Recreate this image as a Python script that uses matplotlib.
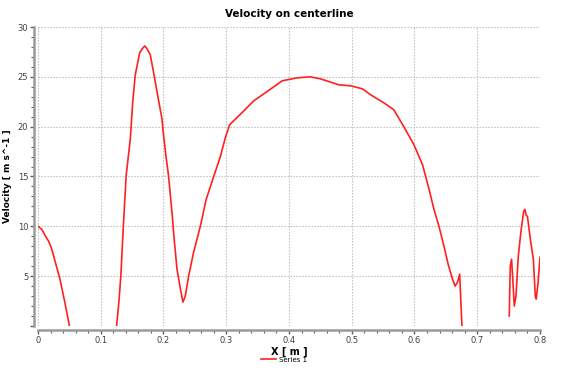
import numpy as np
import matplotlib
matplotlib.use('Agg')
import matplotlib.pyplot as plt

# centerline velocity (three separate pieces)
seg1_x = [0.0, 0.006, 0.012, 0.017, 0.022, 0.028, 0.035, 0.042, 0.0495, 0.051]
seg1_v = [10.0, 9.7, 9.0, 8.5, 7.7, 6.3, 4.7, 2.6, 0.2, -0.5]

seg2_x = [0.124, 0.1256, 0.129, 0.132, 0.136, 0.1405, 0.147, 0.151, 0.155, 0.162,
          0.166, 0.170, 0.174, 0.179, 0.184, 0.192, 0.1975, 0.200, 0.204, 0.208,
          0.2135, 0.217, 0.2215, 0.227, 0.231, 0.2347, 0.240, 0.248, 0.2587, 0.268,
          0.280, 0.2906, 0.2986, 0.3055, 0.325, 0.344, 0.360, 0.3757, 0.389, 0.413,
          0.434, 0.450, 0.4795, 0.498, 0.517, 0.530, 0.551, 0.567, 0.583, 0.599,
          0.6127, 0.6233, 0.631, 0.639, 0.647, 0.6536, 0.6606, 0.6648, 0.6686, 0.672,
          0.6739, 0.6755, 0.676]
seg2_v = [-0.5, 0.2, 2.5, 5.0, 10.0, 15.1, 18.7, 22.5, 25.2, 27.4,
          27.8, 28.1, 27.8, 27.2, 25.5, 22.7, 20.8, 19.2, 17.0, 15.1,
          11.4, 8.7, 5.7, 3.7, 2.4, 3.0, 5.0, 7.4, 10.0, 12.7,
          15.0, 17.0, 18.9, 20.2, 21.4, 22.6, 23.3, 24.0, 24.6, 24.9,
          25.0, 24.8, 24.2, 24.1, 23.8, 23.2, 22.4, 21.7, 20.0, 18.2,
          16.2, 13.7, 11.7, 10.0, 8.0, 6.2, 4.7, 4.0, 4.4, 5.2,
          2.4, 0.2, -0.5]

seg3_x = [0.751, 0.7526, 0.7547, 0.7569, 0.759, 0.7617, 0.7654, 0.770, 0.774, 0.776,
          0.778, 0.780, 0.7846, 0.7894, 0.7925, 0.794, 0.797, 0.800]
seg3_v = [1.0, 6.0, 6.7, 4.4, 2.0, 3.0, 7.0, 9.7, 11.5, 11.7,
          11.1, 11.0, 8.7, 6.7, 3.0, 2.7, 4.4, 6.9]

x_ticks = [0, 0.1, 0.2, 0.3, 0.4, 0.5, 0.6, 0.7, 0.8]
x_tick_labels = ['0', '0.1', '0.2', '0.3', '0.4', '0.5', '0.6', '0.7', '0.8']
y_ticks = [0, 5, 10, 15, 20, 25, 30]
y_tick_labels = ['', '5', '10', '15', '20', '25', '30']

red = '#ff2020'
grey = '#9a9a9a'

fig = plt.figure(figsize=(5.68, 3.72), dpi=100)
ax = fig.add_axes([0.0669, 0.1237, 0.8838, 0.8037])

line_x = seg1_x + [np.nan] + seg2_x + [np.nan] + seg3_x
line_v = seg1_v + [np.nan] + seg2_v + [np.nan] + seg3_v
ax.plot(line_x, line_v, color=red, lw=1.2, label='Series 1')

ax.set_xlim(0, 0.8)
ax.set_ylim(0, 30)
ax.set_xticks(x_ticks)
ax.set_xticklabels(x_tick_labels)
ax.set_yticks(y_ticks)
ax.set_yticklabels(y_tick_labels)
ax.set_xticks(np.arange(0, 0.81, 0.02), minor=True)
ax.set_yticks(np.arange(0, 30.1, 1), minor=True)

ax.grid(True, which='major', linestyle=(0, (1.2, 1.5)), color='#b8b8b8', lw=0.8)
for sp in ['top', 'right']:
    ax.spines[sp].set_visible(False)
for sp in ['left', 'bottom']:
    ax.spines[sp].set_color(grey)
    ax.spines[sp].set_linewidth(1.8)
    ax.spines[sp].set_position(('outward', 3))

ax.tick_params(which='major', length=3, width=1, color='#606060',
               labelsize=6, labelcolor='#404040', pad=1)
ax.tick_params(which='minor', length=2, width=0.8, color='#606060')

ax.set_title('Velocity on centerline', fontsize=7.5, fontweight='bold', pad=7)
ax.set_xlabel('X [ m ]', fontsize=7, fontweight='bold')
ax.xaxis.set_label_coords(0.5, -0.068)
ax.set_ylabel('Velocity [ m s^-1 ]', fontsize=6.5, fontweight='bold')
ax.yaxis.set_label_coords(-0.052, 0.5)

fig.legend(loc='center', bbox_to_anchor=(0.5, 0.033), fontsize=5, frameon=False,
           handlelength=2.2, handletextpad=0.5)

fig.savefig('out.png', dpi=100)
